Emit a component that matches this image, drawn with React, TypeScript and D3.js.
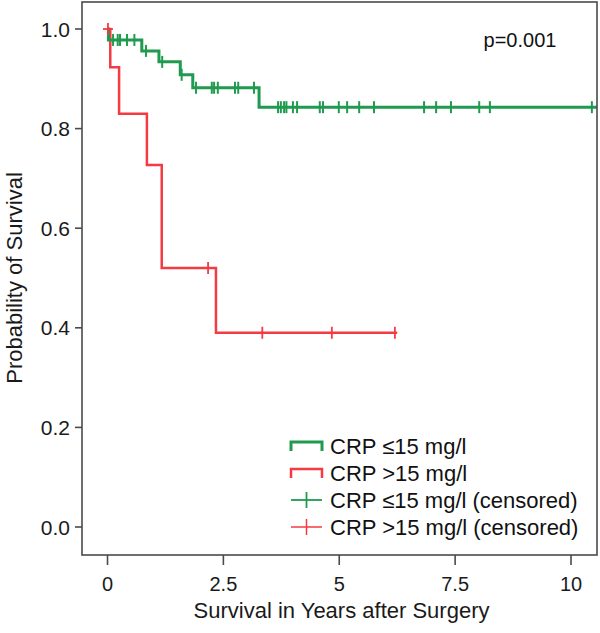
import React from 'react';
import * as d3 from 'd3';

// ---- Data ----
const xTicks = [0, 2.5, 5, 7.5, 10];
const xTickLabels = ['0', '2.5', '5', '7.5', '10'];
const yTicks = [0, 0.2, 0.4, 0.6, 0.8, 1.0];
const yTickLabels = ['0.0', '0.2', '0.4', '0.6', '0.8', '1.0'];

// CRP <=15 mg/l (green)
const lowEventTimes = [0.02, 0.74, 1.11, 1.57, 1.84, 3.27];
const lowEventSurvival = [0.978, 0.956, 0.934, 0.908, 0.882, 0.843];
const lowEndTime = 10.56;
const lowCensorTimes = [
  0.12, 0.22, 0.27, 0.42, 0.58, 0.83, 1.18, 1.6, 1.91, 2.25, 2.3, 2.38, 2.75, 2.82, 3.16,
  3.68, 3.74, 3.81, 3.86, 4.0, 4.09, 4.58, 4.65, 4.99, 5.17, 5.43, 5.75, 6.83, 7.09, 7.41,
  8.02, 8.25, 10.45,
];

// CRP >15 mg/l (red)
const highEventTimes = [0.06, 0.25, 0.85, 1.17, 2.34];
const highEventSurvival = [0.923, 0.83, 0.727, 0.52, 0.39];
const highEndTime = 6.25;
const highCensorTimes = [0.01, 2.17, 3.34, 4.84, 6.2];

const legendLabels = [
  'CRP \u226415 mg/l',
  'CRP >15 mg/l',
  'CRP \u226415 mg/l (censored)',
  'CRP >15 mg/l (censored)',
];
const pValueText = 'p=0.001';
const xTitle = 'Survival in Years after Surgery';
const yTitle = 'Probability of Survival';

// ---- Styles / layout ----
const GREEN = '#1f9a4f';
const RED = '#f43a42';
const FRAME = '#4a4a4a';
const TEXT = '#1a1a1a';
const FONT = '"Liberation Sans", Arial, sans-serif';

const W = 600;
const H = 633;
const frame = { left: 82, top: 2, right: 597, bottom: 555 };

const x = d3.scaleLinear().domain([0, 10]).range([107.5, 571]);
const y = d3.scaleLinear().domain([0, 1]).range([527, 29]);

function survivalAt(times: number[], surv: number[], t: number) {
  let s = 1;
  for (let i = 0; i < times.length; i++) if (times[i] <= t) s = surv[i];
  return s;
}

function stepPoints(times: number[], surv: number[], end: number): [number, number][] {
  const pts: [number, number][] = [[0, 1]];
  times.forEach((t, i) => pts.push([t, surv[i]]));
  pts.push([end, surv[surv.length - 1]]);
  return pts;
}

const stepLine = d3
  .line<[number, number]>()
  .x((d) => x(d[0]))
  .y((d) => y(d[1]))
  .curve(d3.curveStepAfter);

export default function App() {
  const lowPath = stepLine(stepPoints(lowEventTimes, lowEventSurvival, lowEndTime)) || '';
  const highPath = stepLine(stepPoints(highEventTimes, highEventSurvival, highEndTime)) || '';

  const legendX0 = 291;
  const legendX1 = 322;
  const legendTextX = 330;
  const legendY = (i: number) => 446 + i * 27;

  return (
    <svg
      width={W}
      height={H}
      style={{ position: 'absolute', left: 0, top: 0, background: '#fff' }}
      fontFamily={FONT}
    >
      <rect x={0} y={0} width={W} height={H} fill="#fff" />

      {/* curves */}
      <path d={highPath} fill="none" stroke={RED} strokeWidth={2.5} />
      <path d={lowPath} fill="none" stroke={GREEN} strokeWidth={3} />

      {/* censor marks */}
      {highCensorTimes.map((t, i) => {
        const cx = x(t);
        const cy = y(survivalAt(highEventTimes, highEventSurvival, t));
        return (
          <g key={'hc' + i} stroke={RED} strokeWidth={1.8}>
            <line x1={cx} x2={cx} y1={cy - 6} y2={cy + 6} />
            {i === 0 && <line x1={cx - 5} x2={cx + 5} y1={cy} y2={cy} />}
          </g>
        );
      })}
      {lowCensorTimes.map((t, i) => {
        const cx = x(t);
        const cy = y(survivalAt(lowEventTimes, lowEventSurvival, t));
        return (
          <line
            key={'lc' + i}
            x1={cx}
            x2={cx}
            y1={cy - 6}
            y2={cy + 6}
            stroke={GREEN}
            strokeWidth={2}
          />
        );
      })}

      {/* frame */}
      <rect
        x={frame.left}
        y={frame.top}
        width={frame.right - frame.left}
        height={frame.bottom - frame.top}
        fill="none"
        stroke={FRAME}
        strokeWidth={1.6}
      />

      {/* y axis */}
      {yTicks.map((v, i) => (
        <g key={'yt' + i}>
          <line x1={75} x2={frame.left} y1={y(v)} y2={y(v)} stroke={FRAME} strokeWidth={1.6} />
          <text
            x={70}
            y={y(v)}
            textAnchor="end"
            dominantBaseline="central"
            fontSize={21}
            fill={TEXT}
          >
            {yTickLabels[i]}
          </text>
        </g>
      ))}
      <text
        transform={`translate(14, ${(y(0) + y(1)) / 2}) rotate(-90)`}
        textAnchor="middle"
        dominantBaseline="central"
        fontSize={22}
        fill={TEXT}
      >
        {yTitle}
      </text>

      {/* x axis */}
      {xTicks.map((v, i) => (
        <g key={'xt' + i}>
          <line x1={x(v)} x2={x(v)} y1={frame.bottom} y2={frame.bottom + 10} stroke={FRAME} strokeWidth={1.6} />
          <text x={x(v)} y={591} textAnchor="middle" fontSize={20} fill={TEXT}>
            {xTickLabels[i]}
          </text>
        </g>
      ))}
      <text x={(frame.left + frame.right) / 2 + 2} y={618} textAnchor="middle" fontSize={22} fill={TEXT}>
        {xTitle}
      </text>

      {/* p value */}
      <text x={520} y={40} textAnchor="middle" dominantBaseline="central" fontSize={20} fill="#111">
        {pValueText}
      </text>

      {/* legend */}
      <g>
        <path
          d={`M${legendX0},${legendY(0) + 5}V${legendY(0) - 4}H${legendX1}V${legendY(0) + 5}`}
          fill="none"
          stroke={GREEN}
          strokeWidth={3}
        />
        <path
          d={`M${legendX0},${legendY(1) + 5}V${legendY(1) - 4}H${legendX1}V${legendY(1) + 5}`}
          fill="none"
          stroke={RED}
          strokeWidth={2.5}
        />
        <g stroke={GREEN} strokeWidth={1.8}>
          <line x1={legendX0} x2={legendX1} y1={legendY(2)} y2={legendY(2)} />
          <line x1={(legendX0 + legendX1) / 2} x2={(legendX0 + legendX1) / 2} y1={legendY(2) - 8} y2={legendY(2) + 8} />
        </g>
        <g stroke={RED} strokeWidth={1.5}>
          <line x1={legendX0} x2={legendX1} y1={legendY(3)} y2={legendY(3)} />
          <line x1={(legendX0 + legendX1) / 2} x2={(legendX0 + legendX1) / 2} y1={legendY(3) - 8} y2={legendY(3) + 8} />
        </g>
        {legendLabels.map((l, i) => (
          <text
            key={'lg' + i}
            x={legendTextX}
            y={legendY(i)}
            dominantBaseline="central"
            fontSize={22}
            fill="#111"
          >
            {l}
          </text>
        ))}
      </g>
    </svg>
  );
}
